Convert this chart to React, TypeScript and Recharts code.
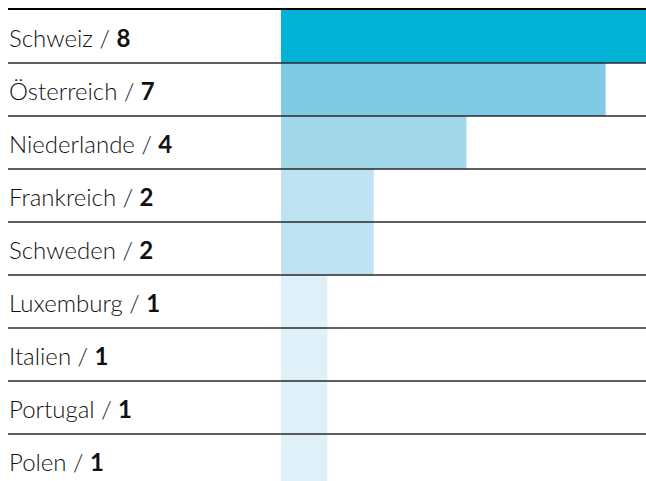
import React from "react";
import { BarChart, Bar, XAxis, YAxis, Cell } from "recharts";

const countries = ["Schweiz", "Österreich", "Niederlande", "Frankreich", "Schweden", "Luxemburg", "Italien", "Portugal", "Polen"];
const counts = [8, 7, 4, 2, 2, 1, 1, 1, 1];
const barColors = ["#00b3d6", "#80cbe3", "#a2d8ea", "#bfe3f2", "#bfe3f2", "#dff0f8", "#dff0f8", "#dff0f8", "#dff0f8"];

const data = countries.map((name, i) => ({ name, value: counts[i] }));

const W = 638;
const H = 473;
const margin = { top: 2, right: 0, bottom: 0, left: 0 };
// the last row runs past the bottom edge of the picture
const rowH = 53;

const Tick = (props: any) => {
  const { y, payload, index } = props;
  const item = data[index];
  const top = y - rowH / 2;
  return (
    <g>
      <line
        x1={0}
        x2={W}
        y1={index === 0 ? top - 1 : top}
        y2={index === 0 ? top - 1 : top}
        stroke={index === 0 ? "#000" : "#2a2a2a"}
        strokeWidth={index === 0 ? 2 : 1.3}
      />
      <text x={1} y={y} dy={10} textAnchor="start" fontSize={24} fill="#111" style={{ fontFamily: "Lato, sans-serif" }}>
        <tspan fontWeight={300}>{payload.value} / </tspan>
        <tspan fontWeight={700}>{item ? item.value : ""}</tspan>
      </text>
    </g>
  );
};

export default function App() {
  return (
    <>
      <style>{"html, body { margin: 0; overflow: hidden; }"}</style>
      <div style={{ width: 646, height: 481, paddingLeft: 8, paddingTop: 8, boxSizing: "border-box", overflow: "hidden" }}>
        <BarChart width={W} height={H + 6} data={data} layout="vertical" margin={margin} barCategoryGap={0}>
          <XAxis type="number" domain={[0, 7.87]} allowDataOverflow hide />
          <YAxis
            type="category"
            dataKey="name"
            width={273}
            axisLine={false}
            tickLine={false}
            tick={<Tick />}
            interval={0}
          />
          <Bar dataKey="value" isAnimationActive={false}>
            {data.map((d, i) => (
              <Cell key={d.name} fill={barColors[i]} />
            ))}
          </Bar>
        </BarChart>
      </div>
    </>
  );
}
